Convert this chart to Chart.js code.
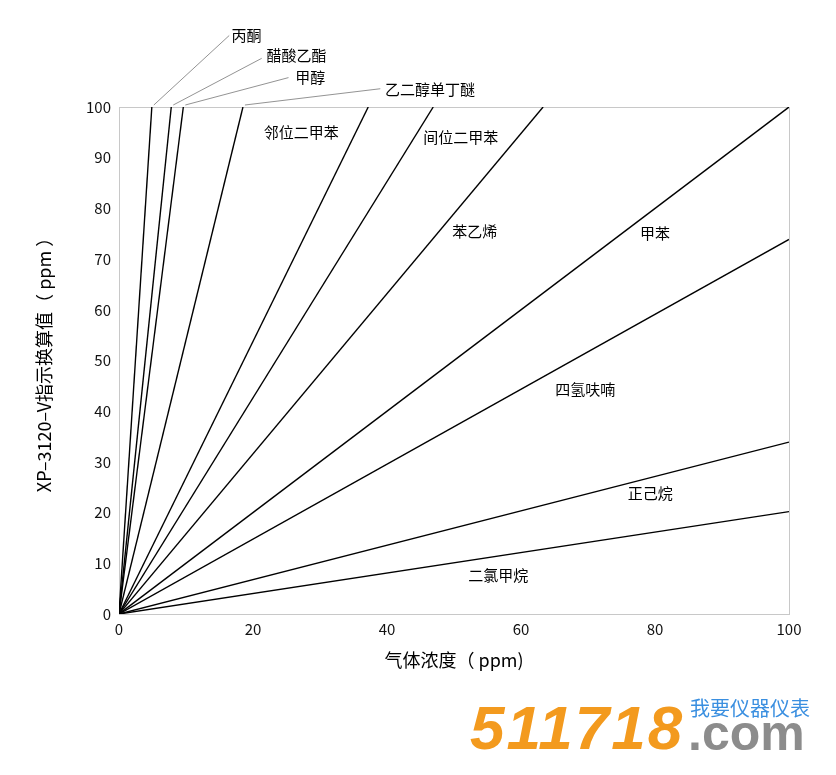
<!DOCTYPE html>
<html><head><meta charset="utf-8">
<script src="https://cdn.jsdelivr.net/npm/chart.js@4/dist/chart.umd.min.js"></script>
<style>
html,body{margin:0;padding:0;background:#fff;}
#wrap{position:relative;width:836px;height:775px;overflow:hidden;background:#fff;}
#c{position:absolute;left:0;top:0;}
.wm{position:absolute;white-space:nowrap;}
#wm1{left:470px;top:697px;font:italic bold 62px "Liberation Sans",Arial,sans-serif;line-height:62px;color:#F39A1E;letter-spacing:2px;}
#wm2{left:688px;top:708px;font:bold 50px "Liberation Sans",Arial,sans-serif;line-height:50px;color:#8C8C8C;}
#wm3{left:690px;top:698px;font:20px "Noto Sans CJK SC",sans-serif;line-height:20px;color:#3A8FE0;}
</style></head><body>
<div id="wrap">
<canvas id="c" width="836" height="775"></canvas>
<div class="wm" id="wm1">511718</div>
<div class="wm" id="wm2">.com</div>
<div class="wm" id="wm3">我要仪器仪表</div>
</div>
<script>
// ---- data ----
const gasNames = ['丙酮','醋酸乙酯','甲醇','乙二醇单丁醚','邻位二甲苯','间位二甲苯','苯乙烯','甲苯','四氢呋喃','正己烷','二氯甲烷'];
// gas concentration (ppm) at the end point of each line
const gasConcentration = [4.9, 7.8, 9.6, 18.5, 37.2, 46.9, 63.3, 100, 100, 100, 100];
// XP-3120-V converted reading (ppm) at that end point
const indicatedValue = [100, 100, 100, 100, 100, 100, 100, 100, 73.9, 33.9, 20.2];
const xTickValues = [0, 20, 40, 60, 80, 100];
const yTickValues = [0, 10, 20, 30, 40, 50, 60, 70, 80, 90, 100];
const xTitle = '气体浓度（ ppm)';
const yTitle = 'XP–3120–V指示换算值（ ppm ）';

// ---- annotation placement (data units) ----
const calloutLabels = { // labels above the plot with leader lines
  '丙酮':       {lx: 16.45, ly: 114.1, tx: 16.8, ty: 114.1},
  '醋酸乙酯':   {lx: 21.3,  ly: 109.6, tx: 22.0, ty: 110.2},
  '甲醇':       {lx: 25.3,  ly: 105.8, tx: 26.3, ty: 105.9},
  '乙二醇单丁醚': {lx: 39.0,  ly: 103.6, tx: 39.7, ty: 103.5}
};
const inlineLabels = { // centred labels inside the plot
  '邻位二甲苯': {x: 27.2, y: 95.0},
  '间位二甲苯': {x: 51.0, y: 94.0},
  '苯乙烯':     {x: 53.1, y: 75.5},
  '甲苯':       {x: 80.0, y: 75.1},
  '四氢呋喃':   {x: 69.6, y: 44.4},
  '正己烷':     {x: 79.3, y: 23.9},
  '二氯甲烷':   {x: 56.6, y: 7.7}
};

const FONT = '"Noto Sans CJK SC","Noto Sans",sans-serif';

const datasets = gasNames.map((name, i) => ({
  label: name,
  data: [{x: 0, y: 0}, {x: gasConcentration[i], y: indicatedValue[i]}],
  borderColor: '#000',
  borderWidth: 1.4,
  pointRadius: 0,
  fill: false,
  tension: 0
}));

const annotate = {
  id: 'annotate',
  beforeDatasetsDraw(chart) {
    const {ctx, chartArea: a} = chart;
    ctx.save();
    ctx.strokeStyle = '#c8c8c8';
    ctx.lineWidth = 1;
    ctx.strokeRect(Math.round(a.left) + 0.5, Math.round(a.top) + 0.5,
                   Math.round(a.right - a.left), Math.round(a.bottom - a.top));
    ctx.restore();
  },
  afterDatasetsDraw(chart) {
    const {ctx} = chart;
    const xs = chart.scales.x, ys = chart.scales.y;
    ctx.save();
    ctx.font = '15px ' + FONT;
    ctx.fillStyle = '#000';
    ctx.textBaseline = 'middle';
    gasNames.forEach((name, i) => {
      const c = calloutLabels[name];
      if (!c) return;
      const sx = xs.getPixelForValue(gasConcentration[i]) + 2;
      const sy = ys.getPixelForValue(indicatedValue[i]) - 2;
      const ex = xs.getPixelForValue(c.lx), ey = ys.getPixelForValue(c.ly);
      ctx.strokeStyle = '#777';
      ctx.lineWidth = 0.8;
      ctx.beginPath();
      ctx.moveTo(sx, sy);
      ctx.lineTo(ex, ey);
      ctx.stroke();
      ctx.textAlign = 'left';
      ctx.fillText(name, xs.getPixelForValue(c.tx), ys.getPixelForValue(c.ty));
    });
    ctx.textAlign = 'center';
    gasNames.forEach(name => {
      const p = inlineLabels[name];
      if (!p) return;
      ctx.fillText(name, xs.getPixelForValue(p.x), ys.getPixelForValue(p.y));
    });
    ctx.restore();
  }
};

new Chart(document.getElementById('c'), {
  type: 'line',
  data: {datasets},
  plugins: [annotate],
  options: {
    responsive: false,
    animation: false,
    devicePixelRatio: 1,
    layout: {padding: {left: 0, top: 107, right: 47, bottom: 0}},
    plugins: {legend: {display: false}, tooltip: {enabled: false}},
    elements: {line: {borderCapStyle: 'butt'}},
    scales: {
      x: {
        type: 'linear', min: 0, max: 100,
        afterFit(s) { s.height = 161; },
        afterBuildTicks(s) { s.ticks = xTickValues.map(v => ({value: v})); },
        grid: {display: false, drawTicks: false},
        border: {display: false},
        ticks: {padding: 6, color: '#111', font: {family: FONT, size: 15}, maxRotation: 0},
        title: {display: true, text: xTitle, color: '#000', font: {family: FONT, size: 18},
                padding: {top: 0, bottom: 104}}
      },
      y: {
        type: 'linear', min: 0, max: 100,
        afterFit(s) { s.width = 119; },
        afterBuildTicks(s) { s.ticks = yTickValues.map(v => ({value: v})); },
        grid: {display: false, drawTicks: false},
        border: {display: false},
        ticks: {padding: 8, color: '#111', font: {family: FONT, size: 15}},
        title: {display: true, text: yTitle, color: '#000', font: {family: FONT, size: 18},
                padding: {top: 33, bottom: 0}}
      }
    }
  }
});
</script>
</body></html>
